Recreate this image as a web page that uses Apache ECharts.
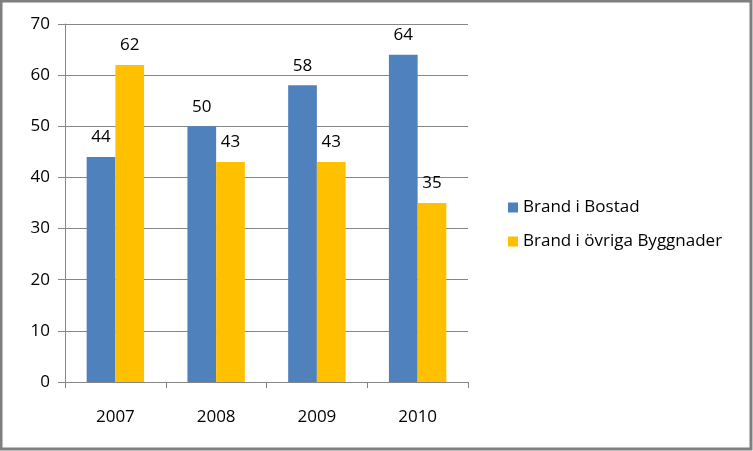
<!DOCTYPE html>
<html><head><meta charset="utf-8">
<script src="https://cdn.jsdelivr.net/npm/echarts@6/dist/echarts.min.js"></script>
<style>html,body{margin:0;padding:0;background:#fff}#c{width:753px;height:451px}</style>
</head><body><div id="c"></div>
<script>
const categories = ['2007', '2008', '2009', '2010'];
const seriesNames = ['Brand i Bostad', 'Brand i övriga Byggnader'];
const bostad = [44, 50, 58, 64];
const ovriga = [62, 43, 43, 35];
const yTicks = [0, 10, 20, 30, 40, 50, 60, 70];

const chart = echarts.init(document.getElementById('c'), null, {renderer: 'canvas'});
const font = 'Open Sans, Liberation Sans, sans-serif';
const fs = 17;
const lbl = {show: true, position: 'top', color: '#000', fontSize: fs, fontFamily: font, distance: 11};
chart.setOption({
  animation: false,
  grid: {left: 65, right: 285, top: 24, bottom: 69, containLabel: false},
  legend: {
    orient: 'vertical', left: 503, top: 194, itemGap: 17, itemWidth: 10, itemHeight: 10,
    icon: 'rect', textStyle: {fontSize: fs, fontFamily: font, color: '#000'},
    data: seriesNames
  },
  xAxis: {
    type: 'category', data: categories,
    axisLine: {lineStyle: {color: '#868686', width: 1}},
    axisTick: {show: true, length: 6, lineStyle: {color: '#868686'}},
    axisLabel: {fontSize: fs, fontFamily: font, color: '#000', margin: 27}
  },
  yAxis: {
    type: 'value', min: yTicks[0], max: yTicks[yTicks.length - 1], interval: 10,
    axisLine: {show: true, lineStyle: {color: '#868686'}},
    axisTick: {show: true, length: 7, lineStyle: {color: '#868686'}},
    splitLine: {lineStyle: {color: '#868686'}},
    axisLabel: {fontSize: fs, fontFamily: font, color: '#000', margin: 15}
  },
  series: [
    {name: seriesNames[0], type: 'bar', data: bostad, itemStyle: {color: '#4f81bd'}, barCategoryGap: '43%', barGap: '0%', label: lbl},
    {name: seriesNames[1], type: 'bar', data: ovriga, itemStyle: {color: '#ffc000'}, barGap: '0%', label: lbl}
  ],
  graphic: [{
    type: 'rect', shape: {x: 1, y: 1, width: 750, height: 448},
    style: {fill: 'none', stroke: '#7f7f7f', lineWidth: 3}, z: 100
  }]
});
</script></body></html>
